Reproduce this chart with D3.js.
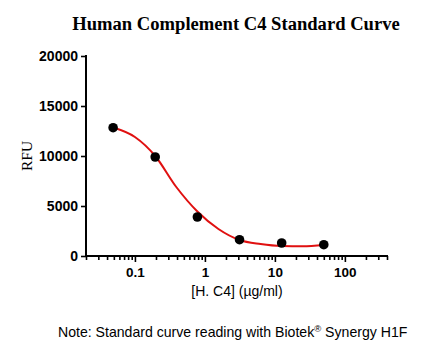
<!DOCTYPE html>
<html><head><meta charset="utf-8">
<script src="https://cdn.jsdelivr.net/npm/d3@7"></script>
<style>body{margin:0;background:#fff}svg{display:block}</style>
</head><body>
<svg id="c" width="433" height="356"></svg>
<script>
// Data
const conc = [0.0488, 0.195, 0.781, 3.125, 12.5, 50];
const rfu = [12830, 9900, 3900, 1630, 1300, 1130];
// fitted curve
const fitX = [0.0488, 0.1, 0.195, 0.39, 0.781, 1.56, 3.125, 6.25, 12.5, 25, 50];
const fitY = [12850, 11900, 10000, 6900, 4450, 2700, 1600, 1200, 1000, 970, 1100];
const yTicks = [0, 5000, 10000, 15000, 20000];
const xTicks = [0.1, 1, 10, 100];
const xTickLabels = ["0.1", "1", "10", "100"];
const title = "Human Complement C4 Standard Curve";
const xTitle = "[H. C4] (\u00b5g/ml)";
const yTitle = "RFU";

const svg = d3.select("#c");
const x = d3.scaleLog().domain([0.02, 400]).range([86, 387]);
const y = d3.scaleLinear().domain([0, 20000]).range([256, 56]);

svg.append("text").attr("x", 236).attr("y", 30).attr("text-anchor", "middle")
  .attr("font-family", "Liberation Serif").attr("font-weight", "bold").attr("font-size", 18.6)
  .text(title);

// Y axis
const ya = svg.append("g").attr("transform", "translate(86,0)")
  .call(d3.axisLeft(y).tickValues(yTicks).tickSize(5).tickPadding(3).tickFormat(d3.format("d")));
ya.select(".domain").attr("stroke-width", 2).attr("d", "M0,55V256");
ya.selectAll(".tick line").attr("stroke-width", 2);
ya.selectAll("text").attr("font-family", "Liberation Sans").attr("font-weight", "bold").attr("font-size", 14);

// X axis
const minor = [];
[0.01, 0.1, 1, 10, 100].forEach(d => { for (let k = 2; k <= 9; k++) { const v = d * k; if (v >= 0.02 && v <= 400.0001 && !xTicks.includes(v)) minor.push(v); } });
const xg = svg.append("g").attr("transform", "translate(0,256)");
xg.call(d3.axisBottom(x).tickValues(minor).tickSize(4).tickFormat(""));
xg.select(".domain").remove();
const xm = svg.append("g").attr("transform", "translate(0,256)")
  .call(d3.axisBottom(x).tickValues(xTicks).tickSize(6).tickPadding(5).tickFormat((d, i) => xTickLabels[i]));
xm.select(".domain").attr("stroke-width", 2).attr("d", "M85," + 0 + "H388");
svg.selectAll("g .tick line").attr("stroke-width", 1.6);
xm.selectAll("text").attr("font-family", "Liberation Sans").attr("font-weight", "bold").attr("font-size", 13.5);

svg.append("text").attr("x", 237).attr("y", 296).attr("text-anchor", "middle")
  .attr("font-family", "Liberation Sans").attr("font-size", 14).text(xTitle);
svg.append("text").attr("transform", "translate(32,156) rotate(-90)").attr("text-anchor", "middle")
  .attr("font-family", "Liberation Serif").attr("font-size", 15.5).text(yTitle);

// Curve
const line = d3.line().x(d => x(d[0])).y(d => y(d[1])).curve(d3.curveMonotoneX);
svg.append("path").datum(fitX.map((v, i) => [v, fitY[i]])).attr("d", line)
  .attr("fill", "none").attr("stroke", "#e01010").attr("stroke-width", 2);

svg.selectAll("circle.p").data(conc).enter().append("circle")
  .attr("cx", d => x(d)).attr("cy", (d, i) => y(rfu[i])).attr("r", 4.8).attr("fill", "#000");

const note = svg.append("text").attr("x", 58).attr("y", 337)
  .attr("font-family", "Liberation Sans").attr("font-size", 14.1);
note.append("tspan").text("Note: Standard curve reading with Biotek");
note.append("tspan").attr("font-size", 9.5).attr("dy", -5).text("\u00ae");
note.append("tspan").attr("dy", 5).text(" Synergy H1F");
</script>
</body></html>
